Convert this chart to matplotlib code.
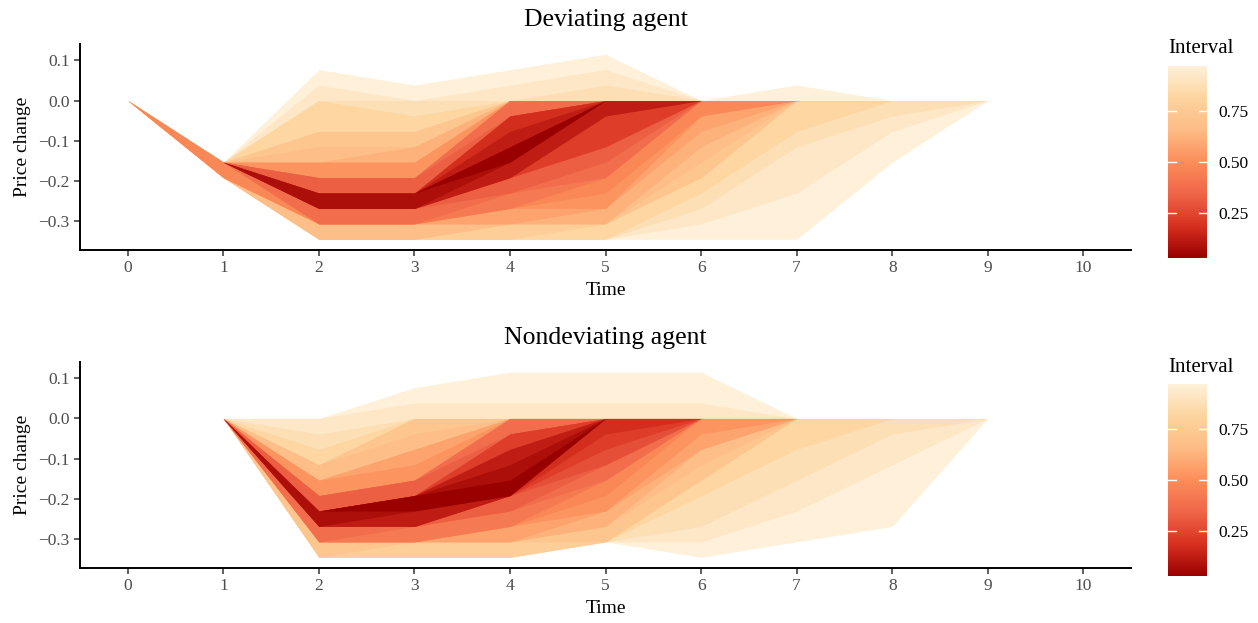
import numpy as np
import matplotlib.pyplot as plt
from matplotlib.colors import LinearSegmentedColormap, Normalize
from matplotlib.cm import ScalarMappable
from matplotlib.ticker import FuncFormatter

plt.rcParams['font.family'] = ['Liberation Serif', 'DejaVu Serif']

# price grid in steps of 1/26, from -9 to +3 steps
price_steps = np.arange(-9, 4)
step_size = 1 / 26

# interval widths drawn as nested ribbons
widths = [0.025, 0.075, 0.125, 0.175, 0.225, 0.275, 0.325, 0.375, 0.425, 0.475,
          0.525, 0.575, 0.625, 0.675, 0.725, 0.775, 0.825, 0.875, 0.925, 0.975]

# share of runs at or below each price step (columns -9 ... +3), one row per period
dev_times = [0, 1, 2, 3, 4, 5, 6, 7, 8, 9]
dev_cdf = [
    [0, 0, 0, 0, 0, 0, 0, 0, 0, 1, 1, 1, 1],
    [0, 0, 0, 0, 0.28, 1, 1, 1, 1, 1, 1, 1, 1],
    [0.17, 0.325, 0.475, 0.64, 0.76, 0.815, 0.86, 0.89, 0.91, 0.95, 0.98, 1, 1],
    [0.17, 0.325, 0.48, 0.64, 0.76, 0.81, 0.86, 0.90, 0.935, 0.98, 1, 1, 1],
    [0.125, 0.225, 0.29, 0.36, 0.45, 0.49, 0.54, 0.575, 0.675, 0.96, 0.985, 1, 1],
    [0.10, 0.19, 0.24, 0.28, 0.32, 0.35, 0.39, 0.41, 0.44, 0.925, 0.96, 0.985, 1],
    [0.035, 0.06, 0.085, 0.11, 0.14, 0.17, 0.20, 0.225, 0.265, 1, 1, 1, 1],
    [0.015, 0.025, 0.03, 0.04, 0.05, 0.06, 0.075, 0.09, 0.11, 0.985, 1, 1, 1],
    [0, 0, 0, 0, 0, 0.02, 0.035, 0.05, 0.065, 1, 1, 1, 1],
    [0, 0, 0, 0, 0, 0, 0, 0, 0, 1, 1, 1, 1],
]

nondev_times = [1, 2, 3, 4, 5, 6, 7, 8, 9]
nondev_cdf = [
    [0, 0, 0, 0, 0, 0, 0, 0, 0, 1, 1, 1, 1],
    [0.14, 0.33, 0.48, 0.65, 0.75, 0.83, 0.895, 0.925, 0.94, 1, 1, 1, 1],
    [0.13, 0.30, 0.45, 0.51, 0.65, 0.74, 0.785, 0.815, 0.86, 0.95, 0.98, 1, 1],
    [0.125, 0.215, 0.29, 0.36, 0.49, 0.525, 0.56, 0.61, 0.665, 0.955, 0.975, 0.985, 1],
    [0, 0.16, 0.21, 0.25, 0.285, 0.335, 0.365, 0.40, 0.425, 0.94, 0.965, 0.985, 1],
    [0.02, 0.045, 0.065, 0.085, 0.11, 0.14, 0.18, 0.22, 0.26, 0.95, 0.965, 0.985, 1],
    [0, 0.015, 0.03, 0.045, 0.055, 0.07, 0.085, 0.10, 0.11, 1, 1, 1, 1],
    [0, 0, 0.013, 0.02, 0.025, 0.035, 0.045, 0.055, 0.065, 1, 1, 1, 1],
    [0, 0, 0, 0, 0, 0, 0, 0, 0, 1, 1, 1, 1],
]

orrd = ['#990000', '#d7301f', '#ef6548', '#fc8d59', '#fdbb84', '#fdd49e', '#fef0d9']
cmap = LinearSegmentedColormap.from_list('orrd_r', orrd)
norm = Normalize(vmin=min(widths), vmax=max(widths))


def interval(cdf, w):
    cdf = np.asarray(cdf)
    lo = price_steps[np.searchsorted(cdf, (1 - w) / 2 - 1e-9)]
    hi = price_steps[np.searchsorted(cdf, (1 + w) / 2 - 1e-9)]
    return lo * step_size, hi * step_size


def fan(ax, times, cdfs, title):
    for w in sorted(widths, reverse=True):
        bounds = np.array([interval(c, w) for c in cdfs])
        ax.fill_between(times, bounds[:, 0], bounds[:, 1], color=cmap(norm(w)),
                        lw=0, antialiased=True)
    ax.set_xlim(-0.5, 10.5)
    ax.set_ylim(-0.373, 0.141)
    ax.set_xticks(range(11))
    ax.set_yticks([-0.3, -0.2, -0.1, 0.0, 0.1])
    ax.yaxis.set_major_formatter(FuncFormatter(lambda v, p: f'{v:.1f}'.replace('-', '\u2212')))
    for s in ['top', 'right']:
        ax.spines[s].set_visible(False)
    for s in ['left', 'bottom']:
        ax.spines[s].set_linewidth(1.4)
    ax.tick_params(length=4, width=1.1, color='#333333', labelcolor='#4d4d4d', labelsize=12.5)
    ax.set_xlabel('Time', fontsize=14, labelpad=4)
    ax.set_ylabel('Price change', fontsize=14, labelpad=5)
    ax.set_title(title, fontsize=18.5, pad=13)


def legend_bar(fig, rect):
    cax = fig.add_axes(rect)
    cb = fig.colorbar(ScalarMappable(norm=norm, cmap=cmap), cax=cax)
    cb.outline.set_visible(False)
    ticks = [0.25, 0.5, 0.75]
    cb.set_ticks(ticks)
    cb.set_ticklabels(['0.25', '0.50', '0.75'])
    cax.tick_params(length=0, labelsize=12.5, pad=8)
    for t in ticks:
        cax.plot([0, 0.2], [t, t], color='white', lw=1, transform=cax.get_yaxis_transform())
        cax.plot([0.8, 1], [t, t], color='white', lw=1, transform=cax.get_yaxis_transform())
    fig.text(rect[0], rect[1] + rect[3] + 0.012, 'Interval', fontsize=15, ha='left', va='bottom')


fig = plt.figure(figsize=(12.58, 6.23), dpi=100)
ax1 = fig.add_axes([0.0636, 0.5987, 0.8355, 0.3307])
ax2 = fig.add_axes([0.0636, 0.0883, 0.8355, 0.3307])

fan(ax1, dev_times, dev_cdf, 'Deviating agent')
fan(ax2, nondev_times, nondev_cdf, 'Nondeviating agent')

legend_bar(fig, [0.9285, 0.5859, 0.031, 0.3082])
legend_bar(fig, [0.9285, 0.0754, 0.031, 0.3082])

fig.savefig('out.png', dpi=100)
